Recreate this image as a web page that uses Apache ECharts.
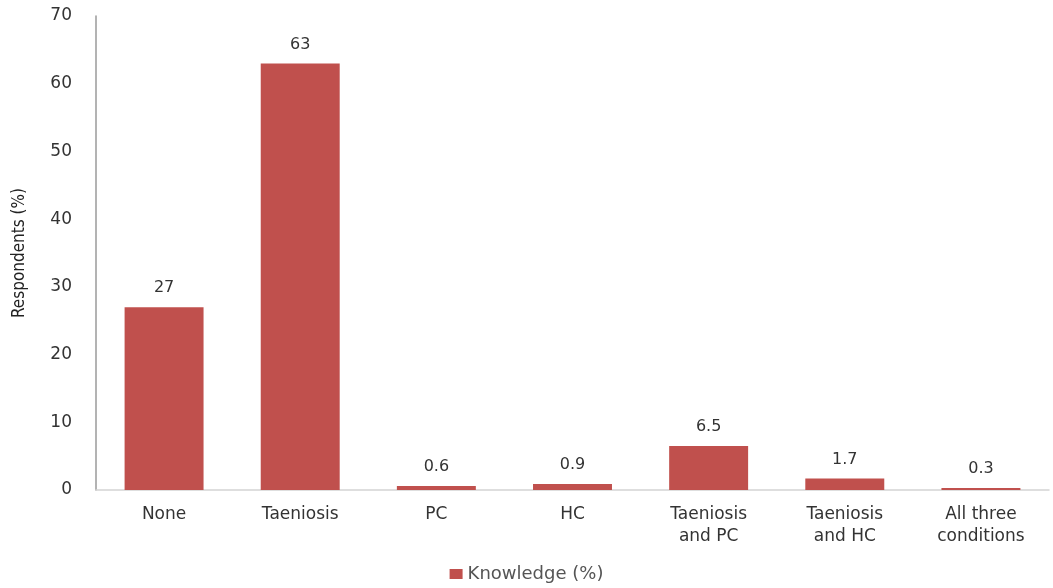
<!DOCTYPE html>
<html>
<head>
<meta charset="utf-8">
<script src="https://cdn.jsdelivr.net/npm/echarts@6/dist/echarts.min.js"></script>
<style>
  html, body { margin: 0; padding: 0; background: #fff; }
  #chart { width: 1053px; height: 588px; }
</style>
</head>
<body>
<div id="chart"></div>
<script>
// Knowledge of taeniosis, porcine cysticercosis (PC) and human cysticercosis (HC)
const categories = ['None', 'Taeniosis', 'PC', 'HC', 'Taeniosis\nand PC', 'Taeniosis\nand HC', 'All three\nconditions'];
const knowledge = [27, 63, 0.6, 0.9, 6.5, 1.7, 0.3];
const seriesName = 'Knowledge (%)';
const yTitle = 'Respondents (%)';

const FONT = '"DejaVu Sans", "Noto Sans", sans-serif';
const chart = echarts.init(document.getElementById('chart'), null, { renderer: 'canvas' });

chart.setOption({
  animation: false,
  textStyle: { fontFamily: FONT },
  grid: { left: 96, right: 4, top: 16, bottom: 98, containLabel: false },
  legend: {
    data: [seriesName],
    bottom: 0,
    left: 'center',
    itemWidth: 13,
    itemHeight: 10,
    itemGap: 6,
    icon: 'rect',
    textStyle: { fontSize: 18, color: '#555', fontFamily: FONT }
  },
  xAxis: {
    type: 'category',
    data: categories,
    axisLine: { lineStyle: { color: '#d4d4d4', width: 1.5 } },
    axisTick: { show: false },
    axisLabel: { fontSize: 17, color: '#333', margin: 14, lineHeight: 22, interval: 0 }
  },
  yAxis: {
    type: 'value',
    min: 0,
    max: 70,
    interval: 10,
    name: yTitle,
    nameLocation: 'middle',
    nameGap: 68,
    nameTextStyle: { fontSize: 17, color: '#222', fontFamily: '"Liberation Sans Narrow", "DejaVu Sans Condensed", sans-serif' },
    axisLine: { show: true, lineStyle: { color: '#9a9a9a', width: 1.5 } },
    axisTick: { show: false },
    splitLine: { show: false },
    axisLabel: { fontSize: 17, color: '#333', margin: 24 }
  },
  series: [{
    name: seriesName,
    type: 'bar',
    data: knowledge,
    barCategoryGap: '42%',
    itemStyle: { color: '#C0504D' },
    label: {
      show: true,
      position: 'top',
      distance: 11,
      fontSize: 16,
      color: '#333'
    }
  }]
});
</script>
</body>
</html>
